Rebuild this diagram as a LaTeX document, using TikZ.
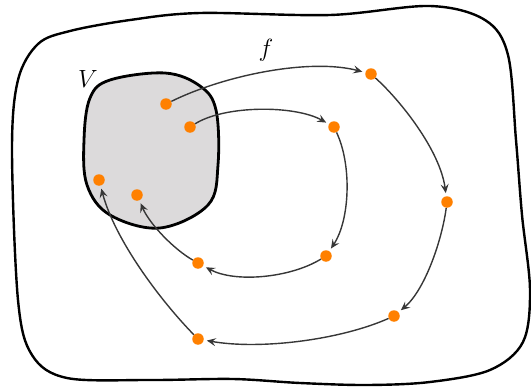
\documentclass[tikz,border=0pt]{standalone}
\usetikzlibrary{arrows.meta}
\definecolor{dotorange}{RGB}{255,128,0}
\definecolor{arrowgray}{RGB}{55,55,55}
\definecolor{regiongray}{RGB}{220,218,219}
\begin{document}
\begin{tikzpicture}[x=1pt,y=-1pt,
  dot/.style={circle,fill=dotorange,inner sep=0pt,minimum size=11.5pt},
  mapsto/.style={draw=arrowgray,line width=1.4pt,shorten >=3pt,
    -{Stealth[length=9pt,width=8pt,inset=3.5pt]}},
  lbl/.style={font=\fontsize{29}{34}\selectfont}]
\useasboundingbox (0,0) rectangle (531,388);

% outer domain
\draw[line width=2.4pt] plot[smooth cycle,tension=0.55] coordinates {
  (70,31) (130,20) (200,13) (330,15) (430,6) (485,20) (508,55) (516,140)
  (522,215) (530,290) (523,342) (490,370) (430,382) (367,385) (300,383)
  (233,379) (150,380) (67,378) (32,355) (18,300) (12,150) (18,80) (38,44)};

% the set V
\draw[line width=2.8pt,fill=regiongray] plot[smooth cycle,tension=0.6] coordinates {
  (110,80) (165,73) (200,86) (216,110) (218,165) (208,205) (160,228)
  (110,215) (87,185) (84,140) (90,98)};

\node[lbl] (vlabel) at (88,79) {$V$};
\node[lbl] (flabel) at (266,50) {$f$};

% points
\node[dot] (d1) at (166,104) {};
\node[dot] (d2) at (190,127) {};
\node[dot] (d3) at (99,180) {};
\node[dot] (d4) at (137,195) {};
\node[dot] (a1) at (371,74) {};
\node[dot] (a2) at (447,202) {};
\node[dot] (a3) at (394,316) {};
\node[dot] (a4) at (198,339) {};
\node[dot] (b1) at (334,127) {};
\node[dot] (b2) at (326,256) {};
\node[dot] (b3) at (198,263) {};

% outer orbit
\draw[mapsto] (d1) .. controls (225,75) and (310,58) .. (a1);
\draw[mapsto] (a1) .. controls (400,100) and (440,150) .. (a2);
\draw[mapsto] (a2) .. controls (442,240) and (425,290) .. (a3);
\draw[mapsto] (a3) .. controls (340,340) and (260,350) .. (a4);
\draw[mapsto] (a4) .. controls (160,300) and (115,240) .. (d3);

% inner orbit
\draw[mapsto] (d2) .. controls (225,105) and (295,105) .. (b1);
\draw[mapsto] (b1) .. controls (352,165) and (350,220) .. (b2);
\draw[mapsto] (b2) .. controls (290,278) and (235,283) .. (b3);
\draw[mapsto] (b3) .. controls (175,250) and (150,225) .. (d4);
\end{tikzpicture}
\end{document}
